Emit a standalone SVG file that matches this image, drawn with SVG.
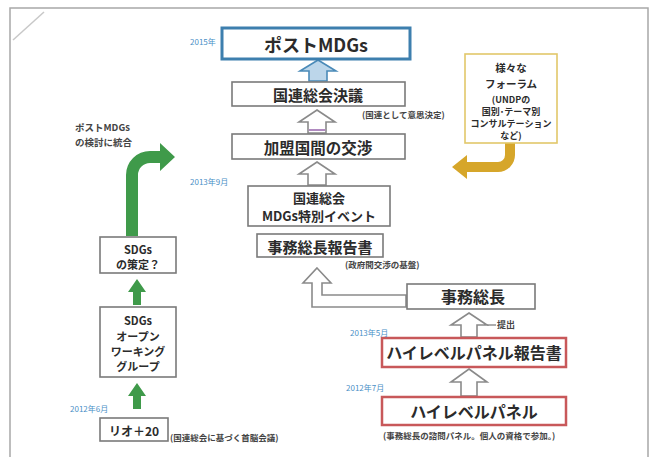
<svg xmlns="http://www.w3.org/2000/svg" width="657" height="457" viewBox="0 0 657 457">
<style>
text{font-family:"Noto Sans CJK JP","Noto Sans CJK SC",sans-serif;}
.b{fill:#fff;stroke:#7a7a7a;stroke-width:1.6}
.red{fill:#fff;stroke:#c8585a;stroke-width:2.5}
.t{font-weight:bold;fill:#2b2b2b;text-anchor:middle;dominant-baseline:central}
.n{font-size:8.5px;fill:#444;font-weight:bold}
.d{font-size:8px;fill:#4a8fc6}
.ha{fill:#fff;stroke:#8a8a8a;stroke-width:1.6;stroke-linejoin:miter}
.g{fill:#3f9a4a}
</style>
<rect x="0" y="0" width="657" height="457" fill="#fff"/>
<path d="M10,470 L10,8 L648,8 L648,470" fill="none" stroke="#a8a8a8" stroke-width="1.5"/>
<line x1="13" y1="40" x2="44" y2="12" stroke="#c8c8c8" stroke-width="1.5"/>

<g id="connectors">
<path d="M318,60 L336,71 L327,71 L327,81 L309,81 L309,71 L300,71 Z" fill="#bcd6ea" stroke="#4a8ab8" stroke-width="1.6"/>
<path class="ha" d="M317,110 L335,122 L326,122 L326,133 L308,133 L308,122 L299,122 Z"/>
<line x1="308.8" y1="130" x2="325.2" y2="130" stroke="#b08ac0" stroke-width="2"/>
<path class="ha" d="M317,162 L335,174 L326,174 L326,185 L308,185 L308,174 L299,174 Z"/>
<path class="ha" d="M317,268 L331,283 L322,283 L322,295 L406,295 L406,307 L312,307 L312,283 L303,283 Z"/>
<path class="ha" d="M469,313 L487,325 L477,325 L477,337 L461,337 L461,325 L451,325 Z"/>
<line x1="487" y1="325" x2="496" y2="325" stroke="#8a8a8a" stroke-width="1.4"/>
<text class="n" x="497" y="328" style="font-size:9px">提出</text>
<path class="ha" d="M469,369 L487,382 L477,382 L477,396 L461,396 L461,382 L451,382 Z"/>
<path class="g" d="M126,236 L126,175 A24,24 0 0 1 150,151 L160,151 L160,143 L175,157 L160,171 L160,163 L150,163 A12,12 0 0 0 138,175 L138,236 Z"/>
<path class="g" d="M137,279 L146,292 L141,292 L141,305 L133,305 L133,292 L128,292 Z"/>
<path class="g" d="M137,383 L146,396 L141,396 L141,409 L133,409 L133,396 L128,396 Z"/>
<path d="M505,143 L515,143 L515,155 A17,17 0 0 1 498,172 L467,172 L467,179 L452,167 L467,155 L467,162 L498,162 A7,7 0 0 0 505,155 Z" fill="#d6a62a"/>
</g>

<g id="post-mdgs">
<rect x="222" y="28" width="188" height="31" fill="#fff" stroke="#3d7fae" stroke-width="3"/>
<text class="t" x="316" y="44" style="font-size:18px">ポストMDGs</text>
<text class="d" x="190" y="45">2015年</text>
</g>
<g id="un-resolution">
<rect class="b" x="232" y="82" width="173" height="24"/>
<text class="t" x="318" y="94" style="font-size:15px">国連総会決議</text>
<text class="n" x="362" y="118">(国連として意思決定)</text>
</g>
<g id="negotiation">
<rect class="b" x="232" y="134" width="173" height="25"/>
<text class="t" x="318" y="147" style="font-size:15.5px">加盟国間の交渉</text>
</g>
<g id="special-event">
<rect class="b" x="248" y="186" width="142" height="40"/>
<text class="t" x="319" y="197" style="font-size:13px">国連総会</text>
<text class="t" x="319" y="215" style="font-size:13px">MDGs特別イベント</text>
<text class="d" x="190" y="185">2013年9月</text>
</g>
<g id="sg-report">
<rect class="b" x="257" y="234" width="126" height="23"/>
<text class="t" x="320" y="246" style="font-size:15px">事務総長報告書</text>
<text class="n" x="345" y="268">(政府間交渉の基盤)</text>
</g>
<g id="forum">
<rect x="465" y="54" width="92" height="89" fill="#fff" stroke="#e2c76a" stroke-width="1.6"/>
<g class="t" style="font-size:10.5px">
<text x="511" y="67">様々な</text>
<text x="511" y="83">フォーラム</text>
<text x="511" y="99" style="font-size:9px">(UNDPの</text>
<text x="511" y="111" style="font-size:9px">国別･テーマ別</text>
<text x="511" y="123" style="font-size:9px">コンサルテーション</text>
<text x="511" y="135" style="font-size:9px">など)</text>
</g>
</g>
<g id="secretary-general">
<rect class="b" x="407" y="284" width="128" height="25"/>
<text class="t" x="473" y="296" style="font-size:16px">事務総長</text>
</g>
<g id="hlp-report">
<rect class="red" x="382" y="338" width="184" height="29"/>
<text class="t" x="474" y="352" style="font-size:16px">ハイレベルパネル報告書</text>
<text class="d" x="350" y="336">2013年5月</text>
</g>
<g id="hlp">
<rect class="red" x="382" y="397" width="184" height="28"/>
<text class="t" x="474" y="411" style="font-size:16px">ハイレベルパネル</text>
<text class="d" x="346" y="391">2012年7月</text>
<text class="n" x="383" y="439">(事務総長の諮問パネル。個人の資格で参加。)</text>
</g>
<g id="post-mdgs-note">
<text class="n" x="75" y="131" style="font-size:9.5px">ポストMDGs</text>
<text class="n" x="75" y="146" style="font-size:9.5px">の検討に統合</text>
</g>
<g id="sdgs">
<rect class="b" x="100" y="237" width="76" height="36"/>
<text class="t" x="138" y="249" style="font-size:11px">SDGs</text>
<text class="t" x="138" y="264" style="font-size:11px">の策定？</text>
</g>
<g id="owg">
<rect class="b" x="100" y="307" width="76" height="70"/>
<text class="t" x="138" y="320" style="font-size:11px">SDGs</text>
<text class="t" x="138" y="336" style="font-size:11px">オープン</text>
<text class="t" x="138" y="351" style="font-size:11px">ワーキング</text>
<text class="t" x="138" y="366" style="font-size:11px">グループ</text>
</g>
<g id="rio20">
<rect class="b" x="100" y="418" width="68" height="23"/>
<text class="t" x="134" y="430" style="font-size:12px">リオ＋20</text>
<text class="d" x="70" y="412">2012年6月</text>
<text class="n" x="170" y="441">(国連総会に基づく首脳会議)</text>
</g>
</svg>
